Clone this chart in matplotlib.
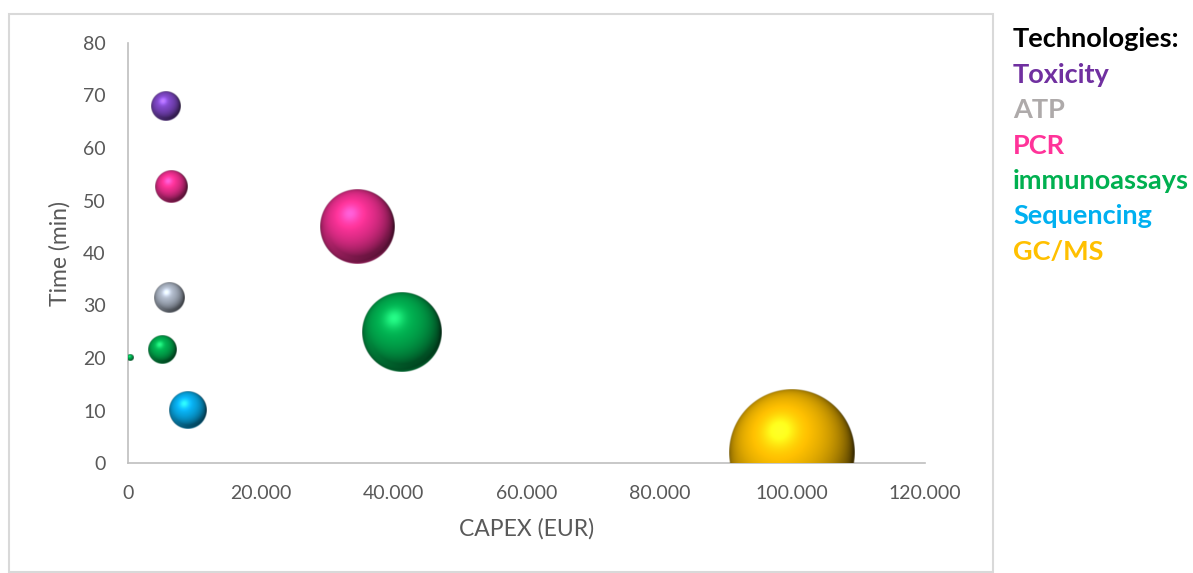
import matplotlib.pyplot as plt
import numpy as np
from matplotlib.colors import to_rgb
from matplotlib.patches import Rectangle
from matplotlib.ticker import FuncFormatter

# technologies (legend order) and their colours
techs = ['Toxicity', 'ATP', 'PCR', 'immunoassays', 'Sequencing', 'GC/MS']
text_colors = ['#7030A0', '#AEAAAA', '#FF3399', '#00B050', '#00B0F0', '#FFC000']
ball_colors = ['#8048C8', '#AEB8C8', '#F53094', '#00B050', '#08B0F0', '#FFC000']

# bubbles: technology index, CAPEX (EUR), time (min), bubble size
tech_idx = [0, 1, 2, 2, 3, 3, 3, 4, 5]
capex = [5700, 6200, 6500, 34500, 300, 5100, 41300, 9000, 100000]
time_min = [68, 31.5, 52.5, 45, 20, 21.5, 25, 10, 2]
bubble = [22, 24, 26, 140, 1, 20, 160, 36, 400]

W, H = 1193, 573
fig = plt.figure(figsize=(W / 100, H / 100), dpi=100, facecolor='w')
ax = fig.add_axes([128 / W, 1 - 463 / H, 797 / W, 420 / H])
ax.set_xlim(0, 120000)
ax.set_ylim(0, 80)

FONT = 'Lato'
GREY = '#595959'


def sphere_img(color, r_px):
    # shaded ball as an RGBA picture (light from the upper left)
    n = max(int(r_px * 4), 24)
    g = np.linspace(-1, 1, n)
    u, v = np.meshgrid(g, g)
    rho = np.sqrt(u ** 2 + v ** 2)
    w = np.sqrt(np.clip(1 - rho ** 2, 0, 1))
    L = np.array([-0.2, 0.35, 0.92])
    L = L / np.linalg.norm(L)
    d = np.clip(u * L[0] + v * L[1] + w * L[2], 0, 1)
    base = np.array(to_rgb(color))
    inten = 0.22 + 0.85 * d ** 0.9
    rgb = base[None, None, :] * inten[..., None]
    spec = 0.3 * d ** 30
    rgb = rgb + spec[..., None] * (0.5 + 0.5 * base[None, None, :])
    # faint reflected light at the bottom rim
    rim = np.clip((rho - 0.8) / 0.2, 0, 1) * np.clip(-v, 0, 1) * 0.35
    rgb = rgb + rim[..., None] * base[None, None, :]
    alpha = np.clip((1 - rho) * r_px + 0.5, 0, 1)
    return np.dstack([np.clip(rgb, 0, 1), alpha])


bb = ax.get_window_extent()
sx = (ax.get_xlim()[1] - ax.get_xlim()[0]) / bb.width
sy = (ax.get_ylim()[1] - ax.get_ylim()[0]) / bb.height
for i in range(len(capex)):
    r = 3.15 * np.sqrt(bubble[i])
    x, y = capex[i], time_min[i]
    ax.imshow(sphere_img(ball_colors[tech_idx[i]], r), origin='lower',
              extent=[x - r * sx, x + r * sx, y - r * sy, y + r * sy],
              aspect='auto', interpolation='bilinear', zorder=3)

ax.set_xlim(0, 120000)
ax.set_ylim(0, 80)
ax.set_xticks(np.arange(0, 120001, 20000))
ax.set_yticks(np.arange(0, 81, 10))
ax.xaxis.set_major_formatter(FuncFormatter(lambda v, p: f'{int(v):,}'.replace(',', '.')))
ax.tick_params(length=0, labelsize=14, labelcolor=GREY)
ax.tick_params(axis='x', pad=16)
ax.tick_params(axis='y', pad=16)
for lab in ax.get_xticklabels() + ax.get_yticklabels():
    lab.set_fontfamily(FONT)
for sp in ('top', 'right'):
    ax.spines[sp].set_visible(False)
for sp in ('left', 'bottom'):
    ax.spines[sp].set_color('#BFBFBF')
    ax.spines[sp].set_linewidth(1.2)
    ax.spines[sp].set_zorder(2)

ax.set_xlabel('CAPEX (EUR)', fontsize=16.5, color=GREY, family=FONT)
ax.set_ylabel('Time (min)', fontsize=16.5, color=GREY, family=FONT, va='center')
ax.xaxis.set_label_coords(0.5, -0.13)
ax.yaxis.set_label_coords(-0.085, 0.5)

# outer chart frame
fig.patches.append(Rectangle((9 / W, 0.001), 984 / W, 1 - 14 / H - 0.001,
                             transform=fig.transFigure, fill=False,
                             edgecolor='#D9D9D9', lw=1.5))

# legend as coloured text
fig.text(1013 / W, 1 - 47 / H, 'Technologies:', fontsize=19.5,
         fontweight='bold', color='black', family=FONT, va='baseline')
for j, (name, c) in enumerate(zip(techs, text_colors)):
    fig.text(1013 / W, 1 - (82.5 + 35.5 * j) / H, name, fontsize=19.5,
             fontweight='bold', color=c, family=FONT, va='baseline')

fig.savefig('out.png', dpi=100, facecolor='w')
